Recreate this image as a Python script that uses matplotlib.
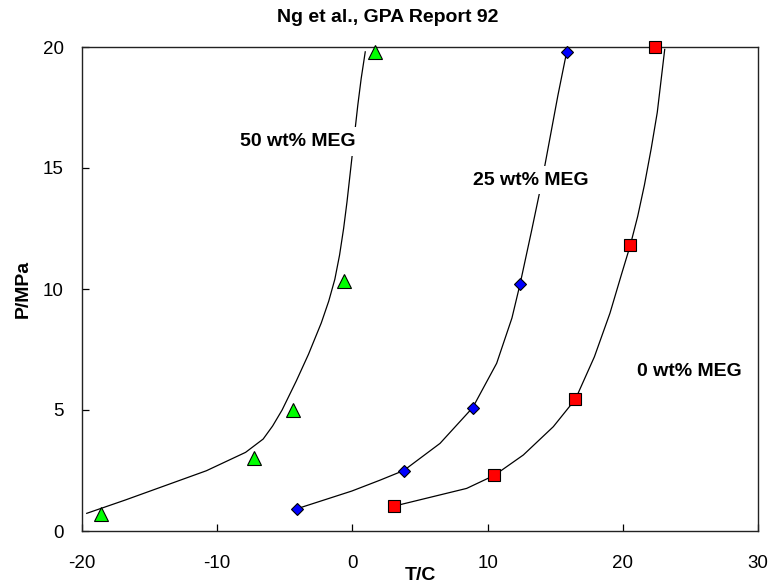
import matplotlib
matplotlib.use("Agg")
import matplotlib.pyplot as plt

plt.rcParams['font.family'] = ['Liberation Sans', 'DejaVu Sans']
plt.rcParams['axes.unicode_minus'] = False

# Measured hydrate equilibrium points (T in C, P in MPa)
meg50_T = [-18.6, -7.3, -4.4, -0.6, 1.7]
meg50_P = [0.70, 3.0, 5.0, 10.35, 19.8]
meg25_T = [-4.1, 3.8, 8.9, 12.4, 15.9]
meg25_P = [0.92, 2.5, 5.1, 10.2, 19.8]
meg0_T = [3.1, 10.5, 16.5, 20.55, 22.4]
meg0_P = [1.03, 2.3, 5.45, 11.8, 20.0]

# Model predictions
fit50_T = [-19.65, -16.8, -10.8, -7.9, -6.6, -5.9, -5.2, -4.15, -3.25, -2.3,
           -1.75, -1.3, -0.95, -0.65, -0.4, -0.2, 0.0, 0.2, 0.4, 0.65, 0.95]
fit50_P = [0.73, 1.28, 2.49, 3.25, 3.8, 4.34, 5.0, 6.2, 7.3, 8.6,
           9.5, 10.4, 11.4, 12.5, 13.6, 14.6, 15.6, 16.6, 17.6, 18.7, 19.8]
fit25_T = [-4.1, -0.05, 2.04, 3.8, 6.48, 8.9, 10.67, 11.8, 12.4, 13.25,
           14.0, 14.6, 15.2, 15.85]
fit25_P = [0.92, 1.65, 2.1, 2.5, 3.62, 5.1, 6.93, 8.8, 10.2, 12.4,
           14.4, 16.2, 18.0, 19.8]
fit0_T = [3.1, 8.45, 10.5, 12.64, 14.86, 16.5, 17.9, 19.05, 19.9, 20.55,
          21.1, 21.6, 22.1, 22.55, 23.1]
fit0_P = [1.03, 1.76, 2.3, 3.14, 4.31, 5.45, 7.2, 9.0, 10.6, 11.8,
          13.0, 14.3, 15.8, 17.3, 19.9]

x_ticks = [-20, -10, 0, 10, 20, 30]
y_ticks = [0, 5, 10, 15, 20]

fig = plt.figure(figsize=(7.72, 5.85), dpi=100)
ax = fig.add_axes([82 / 772, 1 - 531 / 585, 676 / 772, 484 / 585])

lw = 0.9
ax.plot(fit50_T, fit50_P, color='black', lw=lw, zorder=2)
ax.plot(fit25_T, fit25_P, color='black', lw=lw, zorder=2)
ax.plot(fit0_T, fit0_P, color='black', lw=lw, zorder=2)

ax.plot(meg50_T, meg50_P, linestyle='none', marker='^', ms=9.5,
        mfc='#00ff00', mec='black', mew=0.8, zorder=5, clip_on=False)
ax.plot(meg25_T, meg25_P, linestyle='none', marker='D', ms=6.2,
        mfc='#0000ff', mec='black', mew=0.8, zorder=5, clip_on=False)
ax.plot(meg0_T, meg0_P, linestyle='none', marker='s', ms=8,
        mfc='#ff0000', mec='black', mew=0.8, zorder=5, clip_on=False)

label_box = dict(boxstyle='square,pad=0.3', facecolor='white', edgecolor='none')
ax.text(-4.06, 16.1, '50 wt% MEG', fontsize=14, fontweight='bold',
        ha='center', va='center', bbox=label_box, zorder=4)
ax.text(13.21, 14.5, '25 wt% MEG', fontsize=14, fontweight='bold',
        ha='center', va='center', bbox=label_box, zorder=4)
ax.text(24.95, 6.58, '0 wt% MEG', fontsize=14, fontweight='bold',
        ha='center', va='center', zorder=4)

ax.set_xlim(-20, 30)
ax.set_ylim(0, 20)
ax.set_xticks(x_ticks)
ax.set_yticks(y_ticks)
ax.tick_params(direction='in', length=5, width=0.9, labelsize=13.5,
               top=False, right=False)
ax.tick_params(axis='x', pad=17)
ax.tick_params(axis='y', pad=13)
for sp in ax.spines.values():
    sp.set_linewidth(1.0)
    sp.set_color('#222222')

ax.set_xlabel('T/C', fontsize=14, fontweight='bold')
ax.xaxis.set_label_coords((420.5 - 82) / 676, (531 - 575) / 484)
ax.xaxis.label.set_va('center')
ax.set_ylabel('P/MPa', fontsize=14, fontweight='bold')
ax.yaxis.set_label_coords((23 - 82) / 676, 0.5)
ax.yaxis.label.set_va('center')

fig.text(388 / 772, 1 - 18 / 585, 'Ng et al., GPA Report 92', fontsize=14,
         fontweight='bold', ha='center', va='center')

fig.savefig('out.png', dpi=100)
